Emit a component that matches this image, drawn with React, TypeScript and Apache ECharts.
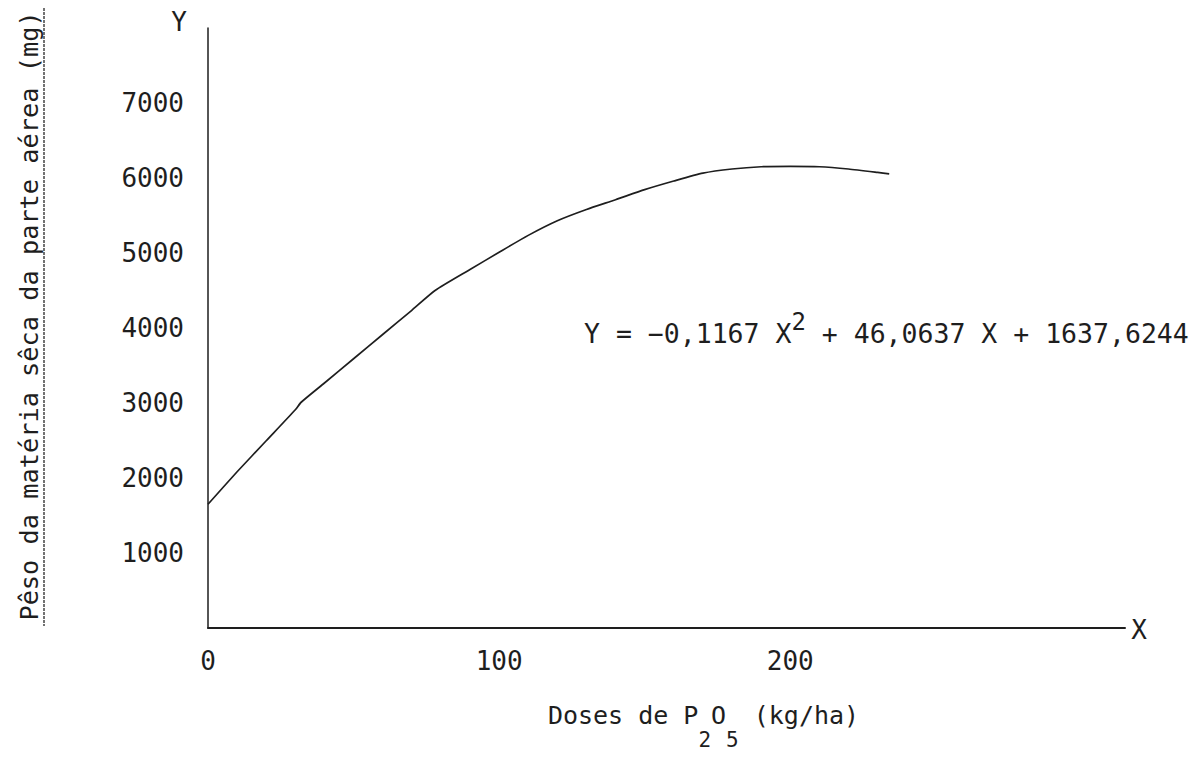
import React, { useEffect, useRef } from "react";
import * as echarts from "echarts";

// Data
const doses = [0, 10, 20, 30, 32, 40, 50, 60, 70, 78, 90, 100, 110, 120, 130, 140, 150, 160, 170, 180, 190, 200, 210, 220, 230, 234];
const pesos = [1650, 2083, 2497, 2910, 3010, 3267, 3590, 3913, 4236, 4500, 4780, 5010, 5235, 5430, 5580, 5710, 5845, 5960, 6065, 6120, 6150, 6155, 6150, 6120, 6075, 6055];
const yTickLabels = [1000, 2000, 3000, 4000, 5000, 6000, 7000];
const xTickLabels = [0, 100, 200];
const yTitle = "Pêso da matéria sêca da parte aérea (mg)";
const eqBefore = "Y = −0,1167 X";
const eqSup = "2";
const eqAfter = " + 46,0637 X + 1637,6244";

const FONT = '"DejaVu Sans Mono", monospace';
const INK = "#1e1e1e";

export default function App() {
  const ref = useRef<HTMLDivElement>(null);
  useEffect(() => {
    if (!ref.current) return;
    const chart = echarts.init(ref.current, undefined, { renderer: "svg" });
    chart.setOption({
      animation: false,
      backgroundColor: "#ffffff",
      grid: { left: 208, top: 28, width: 917, height: 600, containLabel: false },
      xAxis: {
        type: "value",
        min: 0,
        max: 315,
        interval: 100,
        axisLine: { show: true, lineStyle: { color: INK, width: 2 } },
        axisTick: { show: false },
        splitLine: { show: false },
        axisLabel: {
          margin: 20,
          fontFamily: FONT,
          fontSize: 26,
          color: INK,
          formatter: (v: number) => (xTickLabels.includes(v) ? String(v) : ""),
        },
        name: "{a|Doses de P}{s|2}{a|O}{s|5}{a| (kg/ha)}",
        nameLocation: "middle",
        nameGap: 52,
        nameTextStyle: {
          padding: [0, 0, 0, 74],
          rich: {
            a: { fontFamily: FONT, fontSize: 25, color: INK, lineHeight: 70 },
            s: { fontFamily: FONT, fontSize: 21, color: INK, lineHeight: 20, verticalAlign: "bottom" },
          },
        },
      },
      yAxis: {
        type: "value",
        min: 0,
        max: 8000,
        interval: 1000,
        axisLine: { show: true, lineStyle: { color: INK, width: 1.5 } },
        axisTick: { show: false },
        splitLine: { show: false },
        axisLabel: {
          margin: 24,
          fontFamily: FONT,
          fontSize: 26,
          color: INK,
          padding: [0, 0, 6, 0],
          formatter: (v: number) => (yTickLabels.includes(v) ? String(v) : ""),
        },
        name: yTitle,
        nameLocation: "middle",
        nameRotate: 90,
        nameGap: 166,
        nameTextStyle: { fontFamily: FONT, fontSize: 25.3, color: INK, padding: [0, 0, 0, 24] },
      },
      graphic: [
        {
          type: "line",
          shape: { x1: 44, y1: 8, x2: 44, y2: 626 },
          style: { stroke: "#444", lineWidth: 1.5, lineDash: [3, 1] },
        },
        {
          type: "text",
          x: 179,
          y: 22,
          style: { text: "Y", fontFamily: FONT, fontSize: 26, fill: INK, align: "center", verticalAlign: "middle" },
        },
        {
          type: "text",
          x: 1139,
          y: 630,
          style: { text: "X", fontFamily: FONT, fontSize: 26, fill: INK, align: "center", verticalAlign: "middle" },
        },
        {
          type: "text",
          x: 584,
          y: 333,
          style: {
            text: `{a|${eqBefore}}{p|${eqSup}}{a|${eqAfter}}`,
            align: "left",
            verticalAlign: "middle",
            rich: {
              a: { fontFamily: FONT, fontSize: 26.5, fill: INK, lineHeight: 46 },
              p: { fontFamily: FONT, fontSize: 24, fill: INK, lineHeight: 20, verticalAlign: "top" },
            },
          },
        },
      ],
      series: [
        {
          type: "line",
          data: doses.map((d, i) => [d, pesos[i]]),
          showSymbol: false,
          smooth: 0.2,
          lineStyle: { color: INK, width: 1.7 },
        },
      ],
    });
    return () => chart.dispose();
  }, []);
  return (
    <div
      ref={ref}
      style={{ position: "fixed", left: 0, top: 0, width: 1197, height: 764, background: "#fff" }}
    />
  );
}
